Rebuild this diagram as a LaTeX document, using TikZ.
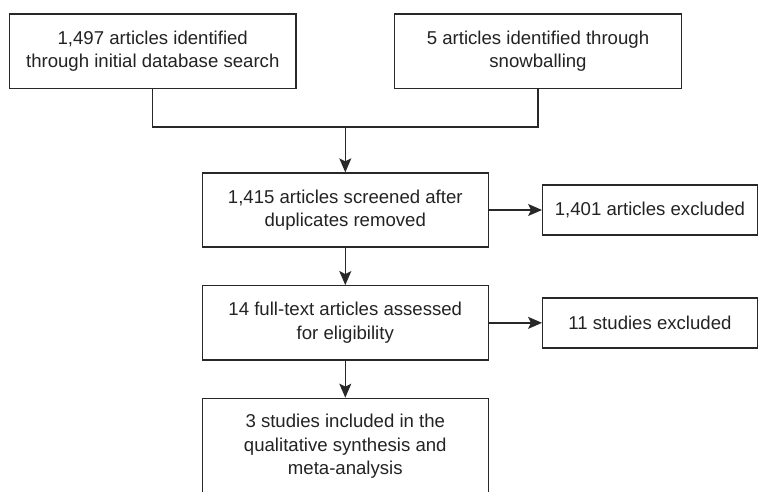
\documentclass[tikz,border=0pt]{standalone}
\usepackage{fontspec}
\setmainfont{Liberation Sans}
\usetikzlibrary{arrows.meta}
\definecolor{ink}{RGB}{40,40,40}
\definecolor{txt}{RGB}{35,35,35}
\begin{document}
\begin{tikzpicture}[x=1pt,y=-1pt,
  box/.style={draw=ink, line width=1.3pt, rectangle, inner sep=0pt, align=center,
    text=txt, font=\fontsize{18.6}{23.5}\selectfont},
  link/.style={draw=ink, line width=1.3pt},
  arr/.style={link, -{Stealth[length=14pt,width=12pt,inset=3pt]}}]
\useasboundingbox (0,0) rectangle (758,492);
\clip (0,0) rectangle (758,492);
\fill[white] (0,0) rectangle (758,492);
\node[box, minimum width=286.5pt, minimum height=74.7pt] (b1) at (152.75,51.35)
  {1,497 articles identified\\through initial database search};
\node[box, minimum width=287.4pt, minimum height=74.7pt] (b2) at (538,51.35)
  {5 articles identified through\\snowballing};
\node[box, minimum width=286pt, minimum height=74pt] (b3) at (345.3,210)
  {1,415 articles screened after\\duplicates removed};
\node[box, minimum width=214.6pt, minimum height=50pt] (b4) at (650,210)
  {1,401 articles excluded};
\node[box, minimum width=286pt, minimum height=74.3pt] (b5) at (345.3,322.85)
  {14 full-text articles assessed\\for eligibility};
\node[box, minimum width=214.6pt, minimum height=50pt] (b6) at (650,322.85)
  {11 studies excluded};
\node[box, minimum width=286pt, minimum height=96.4pt] (b7) at (345.3,446.5)
  {3 studies included in the\\qualitative synthesis and\\meta-analysis};
\coordinate (j) at (345.3,127);
\draw[link] (b1.south) |- (j) -| (b2.south);
\draw[arr] (j) -- (b3.north);
\draw[arr] (b3.east) -- (b4.west);
\draw[arr] (b3.south) -- (b5.north);
\draw[arr] (b5.east) -- (b6.west);
\draw[arr] (b5.south) -- (b7.north);
\end{tikzpicture}
\end{document}
